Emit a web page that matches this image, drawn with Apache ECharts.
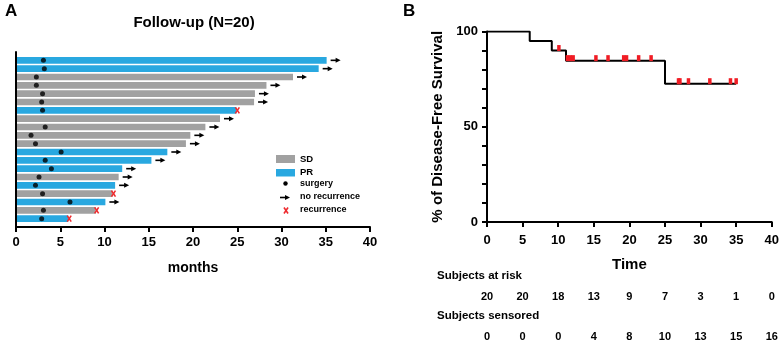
<!DOCTYPE html>
<html><head><meta charset="utf-8">
<script src="https://cdn.jsdelivr.net/npm/echarts@6/dist/echarts.min.js"></script>
<style>html,body{margin:0;padding:0;background:#fff}#c{width:782px;height:349px}</style>
</head><body><div id="c"></div>
<script>
// ---- Panel A: swimmer plot data (one entry per patient, top to bottom) ----
const followUp   = [35.1, 34.2, 31.3, 28.3, 27.0, 26.9, 24.9, 23.05, 21.4, 19.7, 19.2, 17.1, 15.3, 12.0, 11.6, 11.2, 10.9, 10.1, 9.0, 5.9];
const response   = ['PR','PR','SD','SD','SD','SD','PR','SD','SD','SD','SD','PR','PR','PR','SD','PR','SD','PR','SD','PR'];
const surgery    = [3.1, 3.2, 2.3, 2.3, 3.0, 2.9, 3.0, null, 3.3, 1.7, 2.2, 5.1, 3.3, 4.0, 2.6, 2.2, 3.0, 6.1, 3.1, 2.9];
const recurrence = [0, 0, 0, 0, 0, 0, 1, 0, 0, 0, 0, 0, 0, 0, 0, 0, 1, 0, 1, 1];
const monthTicks = [0, 5, 10, 15, 20, 25, 30, 35, 40];

// ---- Panel B: Kaplan-Meier data ----
const kmTime     = [0, 6.0, 9.1, 11.1, 25.0, 35.0];
const kmSurv     = [100, 95, 90, 84.7, 72.6, 72.6];
const censTime   = [10.1, 11.3, 11.7, 12.1, 15.3, 17.0, 19.2, 19.6, 21.3, 23.05, 26.9, 27.1, 28.3, 31.3, 34.2, 35.0];
const censSurv   = [90, 84.7, 84.7, 84.7, 84.7, 84.7, 84.7, 84.7, 84.7, 84.7, 72.6, 72.6, 72.6, 72.6, 72.6, 72.6];
const timeTicks  = [0, 5, 10, 15, 20, 25, 30, 35, 40];
const atRisk     = [20, 20, 18, 13, 9, 7, 3, 1, 0];
const censored   = [0, 0, 0, 4, 8, 10, 13, 15, 16];

const FONT = 'Liberation Sans, Arial, sans-serif';
const BLUE = '#29a8e0', GRAY = '#a1a1a1', RED = '#ee2a2e';

const sdData = [], prData = [], arrowData = [], recData = [], surgData = [];
followUp.forEach((v, i) => {
  (response[i] === 'SD' ? sdData : prData).push([v, i + 1]);
  (recurrence[i] ? recData : arrowData).push([v, i + 1]);
  if (surgery[i] != null) surgData.push([surgery[i], i + 1]);
});

function barItem(params, api) {
  const y = api.value(1), v = api.value(0);
  const p0 = api.coord([0, y]), p1 = api.coord([v, y]);
  const h = api.size([0, 1])[1] * 0.8;
  return { type: 'rect', shape: { x: p0[0] + 1, y: p0[1] - h / 2, width: p1[0] - p0[0] - 1, height: h },
           style: { fill: api.visual('color') } };
}
function arrowShape(x, y) {
  return [
    { type: 'line', shape: { x1: x, y1: y, x2: x + 6, y2: y }, style: { stroke: '#000', lineWidth: 1.6 } },
    { type: 'polygon', shape: { points: [[x + 10, y], [x + 5, y - 2.5], [x + 5, y + 2.5]] }, style: { fill: '#000' } }
  ];
}
function crossShape(x, y) {
  return [
    { type: 'line', shape: { x1: x - 2, y1: y - 3, x2: x + 2, y2: y + 3 }, style: { stroke: RED, lineWidth: 1.6 } },
    { type: 'line', shape: { x1: x + 2, y1: y - 3, x2: x - 2, y2: y + 3 }, style: { stroke: RED, lineWidth: 1.6 } }
  ];
}

const axisTxt = { color: '#000', fontFamily: FONT, fontWeight: 'bold' };

function gText(text, x, y, size, align) {
  return { type: 'text', x: x, y: y, style: { text: text, fill: '#000', font: 'bold ' + size + 'px ' + FONT,
           align: align || 'left', verticalAlign: 'middle' } };
}

const chart = echarts.init(document.getElementById('c'));
chart.setOption({
  animation: false,
  backgroundColor: '#fff',
  grid: [
    { left: 16, top: 52, width: 354, height: 175 },
    { left: 487, top: 31.5, width: 288, height: 190.5 }
  ],
  xAxis: [
    { type: 'value', gridIndex: 0, min: 0, max: 40, interval: 5, position: 'bottom', name: 'months', nameLocation: 'middle', nameGap: 34,
      nameTextStyle: Object.assign({ fontSize: 14 }, axisTxt),
      axisLine: { onZero: false, lineStyle: { color: '#000', width: 2 } }, axisTick: { length: 5, lineStyle: { width: 2, color: '#000' } },
      axisLabel: Object.assign({ fontSize: 13, margin: 9 }, axisTxt), splitLine: { show: false } },
    { type: 'value', gridIndex: 1, min: 0, max: 40, interval: 5, name: 'Time', nameLocation: 'middle', nameGap: 35,
      nameTextStyle: Object.assign({ fontSize: 15 }, axisTxt),
      axisLine: { lineStyle: { color: '#000', width: 2 } }, axisTick: { length: 5, lineStyle: { width: 2, color: '#000' } },
      axisLabel: Object.assign({ fontSize: 13, margin: 12 }, axisTxt), splitLine: { show: false } },
    { type: 'value', gridIndex: 1, min: 0, max: 40, interval: 5, position: 'bottom', offset: 69,
      axisLine: { show: false }, axisTick: { show: false }, splitLine: { show: false },
      axisLabel: Object.assign({ fontSize: 11, margin: 0, formatter: v => String(atRisk[timeTicks.indexOf(v)]) }, axisTxt) },
    { type: 'value', gridIndex: 1, min: 0, max: 40, interval: 5, position: 'bottom', offset: 109,
      axisLine: { show: false }, axisTick: { show: false }, splitLine: { show: false },
      axisLabel: Object.assign({ fontSize: 11, margin: 0, formatter: v => String(censored[timeTicks.indexOf(v)]) }, axisTxt) }
  ],
  yAxis: [
    { type: 'value', gridIndex: 0, min: 0, max: 21, inverse: true,
      axisLine: { show: true, onZero: false, lineStyle: { color: '#000', width: 2 } }, axisTick: { show: false },
      axisLabel: { show: false }, splitLine: { show: false } },
    { type: 'value', gridIndex: 1, min: 0, max: 100, interval: 10, name: '% of Disease-Free Survival',
      nameLocation: 'middle', nameGap: 42, nameTextStyle: Object.assign({ fontSize: 15 }, axisTxt),
      axisLine: { show: true, lineStyle: { color: '#000', width: 2 } },
      axisTick: { show: true, length: 5, lineStyle: { width: 2, color: '#000' } },
      axisLabel: Object.assign({ fontSize: 13, margin: 9, formatter: v => (v % 50 === 0 ? String(v) : '') }, axisTxt),
      splitLine: { show: false } }
  ],
  series: [
    { name: 'SD', type: 'custom', xAxisIndex: 0, yAxisIndex: 0, itemStyle: { color: GRAY }, data: sdData,
      encode: { x: 0, y: 1 }, renderItem: barItem },
    { name: 'PR', type: 'custom', xAxisIndex: 0, yAxisIndex: 0, itemStyle: { color: BLUE }, data: prData,
      encode: { x: 0, y: 1 }, renderItem: barItem },
    { name: 'surgery', type: 'scatter', xAxisIndex: 0, yAxisIndex: 0, symbol: 'circle', symbolSize: 5,
      itemStyle: { color: '#000' }, data: surgData, z: 5 },
    { name: 'no recurrence', type: 'custom', xAxisIndex: 0, yAxisIndex: 0, data: arrowData, encode: { x: 0, y: 1 },
      renderItem: (params, api) => { const p = api.coord([api.value(0), api.value(1)]);
        return { type: 'group', children: arrowShape(p[0] + 4, p[1]) }; } },
    { name: 'recurrence', type: 'custom', xAxisIndex: 0, yAxisIndex: 0, data: recData, encode: { x: 0, y: 1 }, z: 6,
      renderItem: (params, api) => { const p = api.coord([api.value(0), api.value(1)]);
        return { type: 'group', children: crossShape(p[0] + 1, p[1]) }; } },
    { name: 'KM', type: 'line', xAxisIndex: 1, yAxisIndex: 1, step: 'end', symbol: 'none',
      lineStyle: { color: '#000', width: 2 }, data: kmTime.map((t, i) => [t, kmSurv[i]]) },
    { name: 'censored', type: 'scatter', xAxisIndex: 1, yAxisIndex: 1, symbol: 'rect', symbolSize: [3.5, 6],
      symbolOffset: [0, -2.5], itemStyle: { color: '#f01c24', opacity: 1 }, z: 5, data: censTime.map((t, i) => [t, censSurv[i]]) }
  ],
  graphic: [
    gText('A', 5, 11, 17),
    gText('Follow-up (N=20)', 194, 23, 15, 'center'),
    gText('B', 403, 11, 17),
    gText('Subjects at risk', 437, 276, 11.5),
    gText('Subjects sensored', 437, 316, 11.5),
    // legend
    { type: 'rect', shape: { x: 276, y: 155, width: 19, height: 8 }, style: { fill: GRAY } },
    { type: 'rect', shape: { x: 276, y: 169, width: 19, height: 7.5 }, style: { fill: BLUE } },
    { type: 'circle', shape: { cx: 285.5, cy: 183.5, r: 2.2 }, style: { fill: '#000' } },
    { type: 'group', children: arrowShape(280, 197.5) },
    { type: 'group', children: crossShape(286, 210.5) },
    gText('SD', 300, 159, 9.5),
    gText('PR', 300, 172.5, 9.5),
    gText('surgery', 300, 184, 9),
    gText('no recurrence', 300, 197, 9),
    gText('recurrence', 300, 210, 9)
  ]
});
</script>
</body></html>
